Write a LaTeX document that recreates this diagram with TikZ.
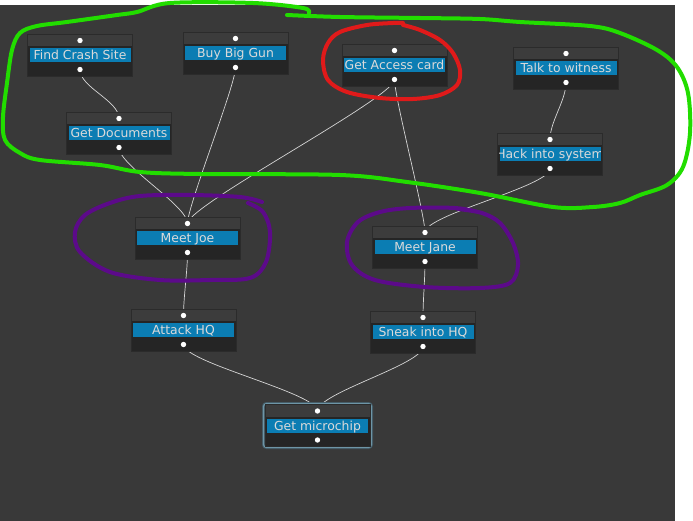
\documentclass[tikz,border=0pt]{standalone}
\usepackage{fontspec}
\setmainfont{DejaVu Sans}
\usetikzlibrary{calc}
\pgfdeclarelayer{bgl}
\pgfdeclarelayer{lines}
\pgfsetlayers{bgl,lines,main}
\definecolor{canvas}{HTML}{393939}
\definecolor{boxtop}{HTML}{3C3C3C}
\definecolor{boxdark}{HTML}{252525}
\definecolor{boxedge}{HTML}{2B2B2B}
\definecolor{barblue}{HTML}{0B7DB3}
\definecolor{labeltxt}{HTML}{DADADA}
\definecolor{wire}{HTML}{D6D6D6}
\definecolor{ringblue}{HTML}{4A7A90}
\definecolor{penGreen}{HTML}{22DD00}
\definecolor{penRed}{HTML}{E01A1A}
\definecolor{penPurple}{HTML}{5C0A8A}
\tikzset{
  gbox/.style={minimum width=105pt, minimum height=42pt, inner sep=0pt,
    draw=boxedge, line width=0.6pt, fill=boxtop,
    path picture={
      \fill[boxdark] (path picture bounding box.south west) rectangle ([yshift=9pt]path picture bounding box.east);
      \fill[barblue] ([xshift=2pt,yshift=-7pt]path picture bounding box.west) rectangle ([xshift=-2pt,yshift=7pt]path picture bounding box.east);
      \fill[white] ([yshift=14.5pt]path picture bounding box.center) circle (2.7pt);
      \fill[white] ([yshift=-14.5pt]path picture bounding box.center) circle (2.7pt);
    }},
  glabel/.style={anchor=base, inner sep=0pt, text=labeltxt, font=\fontsize{12.4pt}{14pt}\selectfont},
  conn/.style={draw=wire, line width=0.7pt},
  pen/.style={line width=4pt, line cap=round, line join=round},
}
\newcommand{\gnode}[4]{%
  \node[gbox] (#1) at (#2,#3) {};
  \begin{scope}
    \clip ([xshift=2pt,yshift=-7pt]#1.west) rectangle ([xshift=-2pt,yshift=7pt]#1.east);
    \node[glabel] (#1-t) at ([yshift=-4.5pt]#1.center) {#4};
  \end{scope}}
\newcommand{\gconn}[2]{%
  \draw[conn] ([yshift=-14.5pt]#1.center) .. controls +(0,18) and +(0,-18) .. ([yshift=14.5pt]#2.center);}
\begin{document}
\begin{tikzpicture}[x=1pt,y=-1pt]
\useasboundingbox (0,0) rectangle (693,521);
\begin{pgfonlayer}{bgl}
  \fill[white] (0,0) rectangle (693,521);
  \fill[canvas] (0,5) rectangle (675,521);
\end{pgfonlayer}

% highlighted node ring
\fill[ringblue!45!canvas, rounded corners=4pt] (262,402) rectangle (373,449);
\draw[ringblue!80!white, line width=1.2pt, rounded corners=3pt] (263.5,403.5) rectangle (371.5,447.5);

\gnode{fcs}{80}{55}{Find Crash Site}
\gnode{bbg}{235.5}{53}{Buy Big Gun}
\gnode{gac}{394.5}{65}{Get Access card}
\gnode{ttw}{566}{68}{Talk to witness}
\gnode{gdoc}{119}{133}{Get Documents}
\gnode{hack}{550}{154}{Hack into system}
\gnode{joe}{187.5}{238}{Meet Joe}
\gnode{jane}{425}{247}{Meet Jane}
\gnode{atk}{183.5}{330}{Attack HQ}
\gnode{snk}{423}{332}{Sneak into HQ}
\gnode{chip}{317.5}{425.5}{Get microchip}

\begin{pgfonlayer}{lines}
  \gconn{fcs}{gdoc}
  \gconn{gdoc}{joe}
  \gconn{bbg}{joe}
  \gconn{gac}{joe}
  \gconn{gac}{jane}
  \gconn{ttw}{hack}
  \gconn{hack}{jane}
  \gconn{joe}{atk}
  \gconn{jane}{snk}
  \gconn{atk}{chip}
  \gconn{snk}{chip}
\end{pgfonlayer}

% hand-drawn annotations
\draw[pen, penGreen] plot[smooth, tension=0.55] coordinates {(287,15) (340,17) (420,18) (480,19) (520,22) (590,26) (620,33) (657,50) (677,67) (688,93) (690,133) (683,167) (667,185) (640,195) (620,203) (593,207) (553,207) (480,193) (407,182) (340,175) (200,174) (140,172) (100,165) (40,160) (20,153) (5,140) (3,117) (7,83) (12,50) (20,33) (37,26) (67,22) (117,15) (137,12) (170,3) (253,3) (303,8) (309,13)};
\draw[pen, penRed] plot[smooth, tension=0.55] coordinates {(403,23) (393,23) (367,25) (340,32) (328,43) (323,60) (328,80) (347,92) (380,98) (413,99) (440,95) (457,85) (460,70) (453,53) (440,40) (420,30) (403,25)};
\draw[pen, penPurple] plot[smooth, tension=0.55] coordinates {(262,202) (240,197) (190,195) (140,196) (110,203) (85,215) (75,232) (80,252) (110,272) (160,280) (210,280) (250,278) (266,262) (270,232) (263,212) (248,203)};
\draw[pen, penPurple] plot[smooth, tension=0.55] coordinates {(478,212) (455,208) (410,208) (380,212) (358,222) (347,242) (352,265) (375,280) (425,287) (480,288) (510,283) (518,265) (513,243) (500,223) (482,213) (458,209)};
\end{tikzpicture}
\end{document}
